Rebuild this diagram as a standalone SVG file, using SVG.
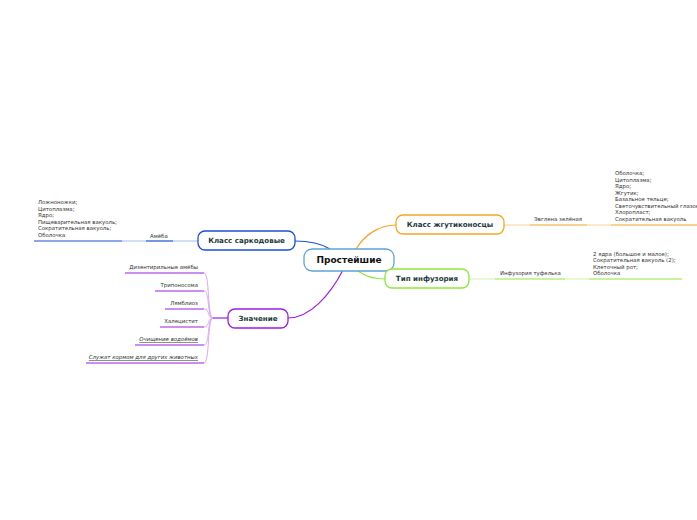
<svg xmlns="http://www.w3.org/2000/svg" width="697" height="520" viewBox="0 0 697 520">
<style>
.node{fill:#fff;stroke-width:1.3}
.lbl{font-family:"DejaVu Sans",sans-serif;font-weight:bold;font-size:7.1px;fill:#1c3a3a;text-anchor:middle}
.main{font-size:9px;fill:#111}
.sm{font-family:"DejaVu Sans",sans-serif;font-size:5.4px;fill:#333}
.it{font-style:italic;text-decoration:underline}
.c{fill:none;stroke-width:1.2}
</style>
<rect width="697" height="520" fill="#fff"/>
<g id="connectors">
<path class="c" stroke="#1a4fd6" d="M330,249 C320,243 306,241 295,241"/>
<path class="c" stroke="#f5a623" d="M356,249 C364,236 378,225 396,225"/>
<path class="c" stroke="#8ee83a" d="M358,271 C366,277 374,279 385,279"/>
<path class="c" stroke="#9b1ee6" d="M343,270 C330,295 310,318 288,318"/>
<path class="c" stroke="#b5c8f0" d="M198,241 L173,241"/>
<path class="c" stroke="#1a4fd6" d="M146,241 L173,241"/>
<path class="c" stroke="#b5c8f0" d="M146,241 L122,241"/>
<path class="c" stroke="#1a4fd6" d="M34,241 L122,241"/>
<path class="c" stroke="#fcd9a5" d="M504,225 L530,225"/>
<path class="c" stroke="#f5a623" d="M530,225 L587,225"/>
<path class="c" stroke="#fcd9a5" d="M587,225 L611,225"/>
<path class="c" stroke="#f5a623" d="M611,225 L697,225"/>
<path class="c" stroke="#d4f5b8" d="M469,279 L495,279"/>
<path class="c" stroke="#8ee83a" d="M495,279 L565,279"/>
<path class="c" stroke="#d4f5b8" d="M565,279 L589,279"/>
<path class="c" stroke="#8ee83a" d="M589,279 L682,279"/>
<path class="c" stroke="#9b1ee6" d="M228,318 L213,318"/>
<g stroke="#d9a8f5" fill="none" stroke-width="1">
<path d="M213,318 C207,318 210,273 204,273"/>
<path d="M213,318 C207,318 210,291 204,291"/>
<path d="M213,318 C207,318 210,309 204,309"/>
<path d="M213,318 C207,318 210,327 204,327"/>
<path d="M213,318 C207,318 210,345 204,345"/>
<path d="M213,318 C207,318 210,363 204,363"/>
</g>
<g stroke="#9b1ee6" stroke-width="1.2">
<path d="M125,273 L204,273"/>
<path d="M155,291 L204,291"/>
<path d="M165,309 L204,309"/>
<path d="M160,327 L204,327"/>
<path d="M135,345 L204,345"/>
<path d="M86,363 L204,363"/>
</g>
</g>
<g id="central">
<rect class="node" x="304" y="249" width="90" height="22" rx="8" stroke="#5ea3d9"/>
<text class="lbl main" x="349" y="263.3">Простейшие</text>
</g>
<g id="sarkodovye">
<rect class="node" x="198" y="231" width="97" height="19" rx="7" stroke="#1a4fd6"/>
<text class="lbl" x="246.5" y="243.3">Класс саркодовые</text>
</g>
<g id="zhgutikonostsy">
<rect class="node" x="396" y="215" width="108" height="19" rx="7" stroke="#f5a623"/>
<text class="lbl" x="450" y="227.3">Класс жгутиконосцы</text>
</g>
<g id="infuzoria">
<rect class="node" x="385" y="269" width="84" height="19" rx="7" stroke="#8ee83a"/>
<text class="lbl" x="427" y="281.3">Тип инфузория</text>
</g>
<g id="znachenie">
<rect class="node" x="228" y="309" width="60" height="19" rx="7" stroke="#9b1ee6"/>
<text class="lbl" x="258" y="321.3">Значение</text>
</g>
<g id="ameba">
<text class="sm" x="150" y="237.5">Амёба</text>
</g>
<g id="ameba-desc">
<text class="sm" x="38" y="204">Ложноножки;</text>
<text class="sm" x="38" y="210.5">Цитоплазма;</text>
<text class="sm" x="38" y="217">Ядро;</text>
<text class="sm" x="38" y="223.5">Пищеварительная вакуоль;</text>
<text class="sm" x="38" y="230">Сократительная вакуоль;</text>
<text class="sm" x="38" y="236.5">Оболочка</text>
</g>
<g id="evglena">
<text class="sm" x="534" y="221">Эвглена зелёная</text>
</g>
<g id="evglena-desc">
<text class="sm" x="615" y="175">Оболочка;</text>
<text class="sm" x="615" y="181.5">Цитоплазма;</text>
<text class="sm" x="615" y="188">Ядро;</text>
<text class="sm" x="615" y="194.5">Жгутик;</text>
<text class="sm" x="615" y="201">Базальное тельце;</text>
<text class="sm" x="615" y="207.5">Светочувствительный глазок;</text>
<text class="sm" x="615" y="214">Хлоропласт;</text>
<text class="sm" x="615" y="220.5">Сократительная вакуоль</text>
</g>
<g id="tufelka">
<text class="sm" x="500" y="275">Инфузория туфелька</text>
</g>
<g id="tufelka-desc">
<text class="sm" x="593" y="255.5">2 ядра (большое и малое);</text>
<text class="sm" x="593" y="262">Сократительная вакуоль (2);</text>
<text class="sm" x="593" y="268.5">Клеточный рот;</text>
<text class="sm" x="593" y="275">Оболочка</text>
</g>
<g id="items" text-anchor="end">
<text class="sm" x="198" y="269">Дизентирильные амёбы</text>
<text class="sm" x="198" y="287">Трипоносома</text>
<text class="sm" x="198" y="305">Лямблиоз</text>
<text class="sm" x="198" y="323">Халецистит</text>
<text class="sm it" x="198" y="341">Очищение водоёмов</text>
<text class="sm it" x="198" y="359">Служат кормом для других животных</text>
</g>
</svg>
